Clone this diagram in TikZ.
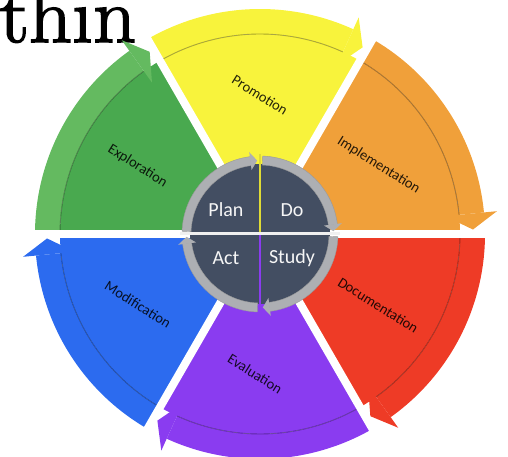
\documentclass[tikz,border=0pt]{standalone}
\usepackage{fontspec}
\newfontfamily\carlito{Carlito}
\newfontfamily\heavylm[FakeBold=2.2,FakeStretch=1.08]{Latin Modern Roman}
\definecolor{cyel}{HTML}{F8F33C}
\definecolor{cora}{HTML}{F0A03A}
\definecolor{cred}{HTML}{EE3B26}
\definecolor{cpur}{HTML}{8A3CF0}
\definecolor{cblu}{HTML}{2C6BEF}
\definecolor{cgre}{HTML}{49A94F}
\definecolor{cgreband}{HTML}{64BA60}
\definecolor{ringgray}{HTML}{ADAFB3}
\definecolor{diskdark}{HTML}{434E62}
\tikzset{
  lbl/.style={font=\carlito\fontsize{14.5}{16}\selectfont, text=black, text opacity=0.85, rotate=-32, inner sep=0pt},
  quad/.style={font=\carlito\fontsize{20}{22}\selectfont, text=white!93!gray, inner sep=0pt},
  gapline/.style={white, line width=8pt},
  bandline/.style={black, opacity=0.32, line width=0.9pt}
}
\newcommand\petalbody[3]{%
  \fill[#2] (0,0) -- (#1:200) arc[start angle=#1, end angle=#1+60, radius=200] -- cycle;
  \fill[#3] (#1+5.5:200) arc[start angle=#1+5.5, end angle=#1+60, radius=200]
     -- (#1+60:225) arc[start angle=#1+60, end angle=#1+5.5, radius=225] -- cycle;
  \draw[bandline] (#1+60:200) arc[start angle=#1+60, end angle=#1+5.5, radius=200];
}
\newcommand\petalhead[2]{%
  \fill[#2] (#1+5.5:186) -- (#1+1.2:213) -- (#1+5.5:238) -- cycle;
}
\newcommand\ringarrow[1]{%
  \fill[ringgray, draw=gray!80, line width=0.4pt] (#1+88:69) arc[start angle=#1+88, end angle=#1+7, radius=69]
     -- (#1+7:78) arc[start angle=#1+7, end angle=#1+88, radius=78] -- cycle;
  \fill[ringgray] (#1+7.5:64.5) -- (#1+2.2:73.5) -- (#1+7.5:82.5) -- cycle;
}
\begin{document}
\begin{tikzpicture}[x=1pt,y=1pt]
\useasboundingbox (0,0) rectangle (508,457);
\clip (0,0) rectangle (508,457);
\node[anchor=base west, inner sep=0pt, font=\heavylm\fontsize{78}{80}\selectfont] (thin) at (-1,415) {thin};
\begin{scope}[shift={(260,223)}]
  % petals
  \petalbody{60}{cyel}{cyel}
  \petalbody{0}{cora}{cora}
  \petalbody{-60}{cred}{cred}
  \petalbody{-120}{cpur}{cpur}
  \petalbody{180}{cblu}{cblu}
  \petalbody{120}{cgre}{cgreband}
  % white gaps
  \foreach \a in {0,60,...,300} \draw[gapline] (0,0) -- (\a:250);
  % arrow heads
  \petalhead{60}{cyel}
  \petalhead{0}{cora}
  \petalhead{-60}{cred}
  \petalhead{-120}{cpur}
  \petalhead{180}{cblu}
  \petalhead{120}{cgreband}
  % labels
  \node[lbl] (promotion) at (90:139) {Promotion};
  \node[lbl] (implementation) at (30:137) {Implementation};
  \node[lbl] (documentation) at (-31:138) {Documentation};
  \node[lbl] (evaluation) at (-92:140) {Evaluation};
  \node[lbl] (modification) at (210:141) {Modification};
  \node[lbl] (exploration) at (151:140) {Exploration};
  % centre
  \fill[diskdark] (0,0) circle (70);
  \foreach \q in {0,90,180,270} {\ringarrow{\q}}
  \draw[white!88!gray, line width=3pt] (180:80) -- (0:80);
  \draw[cyel!90!black, line width=2.5pt] (0,1.5) -- (90:80);
  \draw[cpur, line width=2.5pt] (0,-1.5) -- (270:80);
  \node[quad] (plan) at (-34,24) {Plan};
  \node[quad] (do) at (32,24) {Do};
  \node[quad] (act) at (-34,-24) {Act};
  \node[quad] (study) at (32,-24) {Study};
\end{scope}
\end{tikzpicture}
\end{document}
